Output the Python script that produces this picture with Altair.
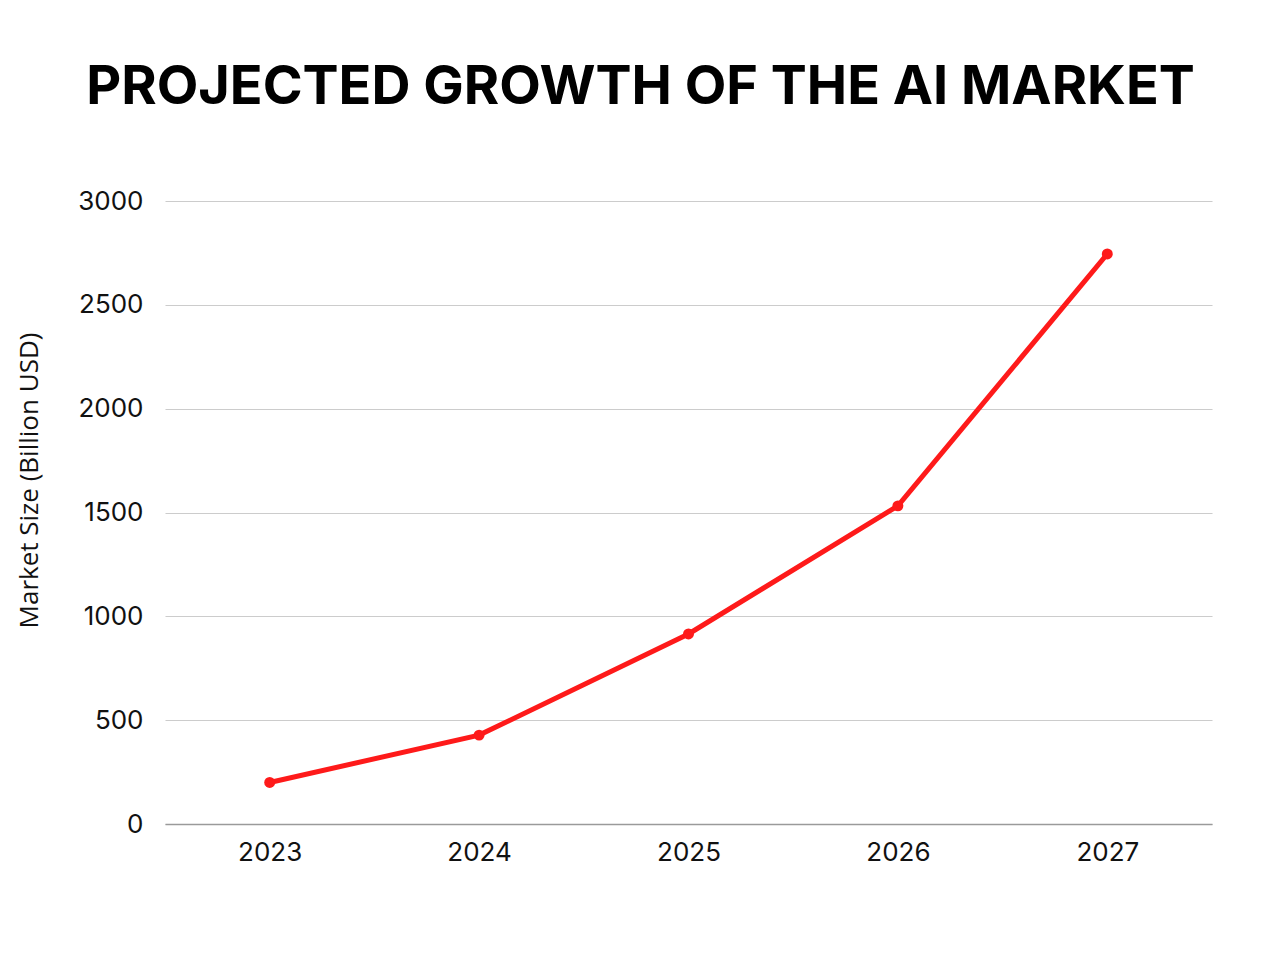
import altair as alt
import pandas as pd

years = ["2023", "2024", "2025", "2026", "2027"]
market_size = [200, 428, 915, 1532, 2745]
y_ticks = [0, 500, 1000, 1500, 2000, 2500, 3000]

df = pd.DataFrame({"Year": years, "Size": market_size})

RED = "#fe1a1a"

base = alt.Chart(df).encode(
    x=alt.X(
        "Year:O",
        sort=years,
        scale=alt.Scale(type="point", padding=0.5),
        axis=alt.Axis(
            title=None,
            labelAngle=0,
            labelFont="Inter",
            labelFontSize=26,
            labelColor="#111111",
            labelPadding=15,
            ticks=False,
            domain=True,
            domainColor="#9a9a9a",
            domainWidth=1.5,
            grid=False,
        ),
    ),
    y=alt.Y(
        "Size:Q",
        scale=alt.Scale(domain=[0, 3000], nice=False),
        axis=alt.Axis(
            title="Market Size (Billion USD)",
            titleFont="Open Sans",
            titleFontSize=26,
            titleFontWeight="normal",
            titleColor="#111111",
            titleY=279,
            titleX=-149,
            titleAlign="center",
            titleBaseline="top",
            titleAngle=270,
            values=y_ticks,
            format="d",
            labelFont="Inter",
            labelFontSize=26,
            labelColor="#111111",
            labelPadding=22,
            ticks=False,
            domain=False,
            grid=True,
            gridColor="#cccccc",
            gridWidth=1.2,
        ),
    ),
)

line = base.mark_line(color=RED, strokeWidth=5)
points = base.mark_point(color=RED, filled=True, size=120, opacity=1)

chart = (
    alt.layer(line, points)
    .properties(
        width=1047,
        height=623,
        autosize=alt.AutoSizeParams(type="none"),
        padding={"left": 157, "top": 193, "right": 60, "bottom": 128},
        title=alt.TitleParams(
            text="PROJECTED GROWTH OF THE AI MARKET",
            font="Inter",
            fontSize=54,
            fontWeight="bold",
            color="#000000",
            anchor="middle",
            dx=-48,
            offset=73,
        ),
        background="white",
    )
    .configure_view(stroke=None)
)

chart.save("out.html", embed_options={"renderer": "svg", "actions": False})
